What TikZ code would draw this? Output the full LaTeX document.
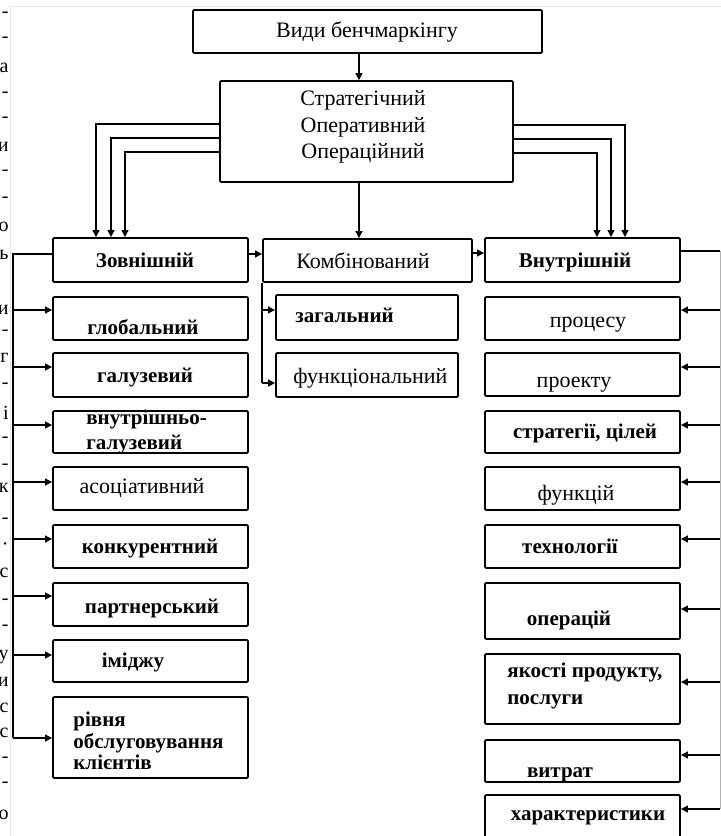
\documentclass[tikz,border=0pt]{standalone}
\usepackage{fontspec}
\setmainfont{Liberation Serif}
\usetikzlibrary{arrows.meta,fit}

\begin{document}
\begin{tikzpicture}[x=0.5pt, y=-0.5pt,
  cell/.style={draw, line width=0.9pt, rounded corners=0.6pt, inner sep=0pt},
  txt/.style={inner sep=0pt, font=\fontsize{11}{12}\selectfont, text height=1.5ex, text depth=0.3ex},
  btxt/.style={txt, font=\fontsize{10.5}{12}\selectfont\bfseries},
  frag/.style={inner sep=0pt, anchor=east, font=\fontsize{10}{11}\selectfont},
  wire/.style={line width=0.8pt},
  arr/.style={-{Triangle[length=3.5pt,width=3.4pt]}, line width=0.8pt}]
\path[use as bounding box] (0,0) rectangle (721,836);
\clip (0,0) rectangle (721,836);
% faint frame and cut text of the page
\draw[gray!20, line width=0.5pt] (10,836) -- (10,6) -- (721,6);
\foreach \y/\c in {15/-, 40/-, 68/а, 95/-, 120/-, 147/и, 173/-, 200/-, 227/о, 255/ь,
  310/и, 333/-, 358/г, 386/-, 413/і, 440/-, 467/-, 488/к, 521/-, 547/·, 573/с,
  602/-, 628/-, 657/у, 682/и, 708/с, 733/с, 760/-, 785/-, 815/о}
  \node[frag] (frag\y) at (9,\y) {\c};

% top
\node[cell, fit={(193,10) (542,53)}] (vydy) {};
\node[txt] (vydy-t) at (367,32) {Види бенчмаркінгу};
\node[cell, fit={(220,81) (513,182)}] (rivni) {};
\node[inner sep=0pt, align=center, font=\fontsize{11}{13.25}\selectfont] (rivni-t) at (363,127)
  {Стратегічний\\Оперативний\\Операційний};
\coordinate (axis) at (359,0);
\draw[arr] (vydy.south -| axis) -- (rivni.north -| axis);

% second level
\node[cell, fit={(53,238) (248,282)}] (zovn) {};
\node[cell, fit={(263,239) (472,282)}] (komb) {};
\node[cell, fit={(485,238) (680,282)}] (vnut) {};
\node[btxt] (zovn-t) at (145,262) {Зовнішній};
\node[txt] (komb-t) at (363,263) {Комбінований};
\node[btxt] (vnut-t) at (575,262) {Внутрішній};
\draw[arr] (rivni.south -| axis) -- (komb.north -| axis);
\foreach \y/\x in {124/96, 138/111, 152/125}
  \draw[arr] (rivni.west |- 0,\y) -| (zovn.north -| \x,0);
\foreach \y/\x in {125/625, 139/611, 153/597}
  \draw[arr] (rivni.east |- 0,\y) -| (vnut.north -| \x,0);
\draw[arr] (zovn.east |- 0,254) -- (komb.west |- 0,254);
\draw[arr] (komb.east |- 0,253) -- (vnut.west |- 0,253);

% external
\foreach \n/\t/\b in {glob/297/340, haluz/353/397, vnhal/411/453, asoc/467/510,
  konk/525/568, partn/583/626, imidzh/640/682, rivnia/697/778}
  \node[cell, fit={(53,\t) (248,\b)}] (\n) {};
\node[btxt] (glob-t) at (143,329) {глобальний};
\node[btxt] (haluz-t) at (145,377) {галузевий};
\node[inner sep=0pt, align=left, anchor=west, font=\fontsize{10.5}{12.5}\selectfont\bfseries] (vnhal-t)
  at (86,432) {внутрішньо-\\галузевий};
\node[txt] (asoc-t) at (142,488) {асоціативний};
\node[btxt] (konk-t) at (150,548) {конкурентний};
\node[btxt] (partn-t) at (152,608) {партнерський};
\node[btxt] (imidzh-t) at (133,662) {іміджу};
\node[inner sep=0pt, align=left, anchor=west, font=\fontsize{10.5}{10.75}\selectfont\bfseries] (rivnia-t)
  at (73,741) {рівня\\обслуговування\\клієнтів};
\coordinate (lt) at (13,254);
\draw[wire] (zovn.west |- lt) -- (lt) -- (lt |- 0,738);
\foreach \n/\y in {glob/310, haluz/367, vnhal/425, asoc/482, konk/539, partn/596,
  imidzh/655, rivnia/738}
  \draw[arr] (lt |- 0,\y) -- (\n.west |- 0,\y);

% combined
\foreach \n/\t/\b in {zahal/295/340, funk/353/397}
  \node[cell, fit={(276,\t) (458,\b)}] (\n) {};
\node[btxt, anchor=west] (zahal-t) at (295,317) {загальний};
\node[txt, anchor=west] (funk-t) at (293,378) {функціональний};
\draw[wire] (komb.south west) -- (komb.south west |- 0,383);
\foreach \n/\y in {zahal/310, funk/383}
  \draw[arr] (komb.south west |- 0,\y) -- (\n.west |- 0,\y);

% internal
\foreach \n/\t/\b in {proc/297/340, proekt/353/396, strat/411/453, funkts/467/510,
  tekhn/525/568, oper/583/639, yakist/654/724, vytr/740/782, kharakt/795/845}
  \node[cell, fit={(485,\t) (680,\b)}] (\n) {};
\node[txt] (proc-t) at (588,322) {процесу};
\node[txt] (proekt-t) at (574,382) {проекту};
\node[btxt] (strat-t) at (585,433) {стратегії, цілей};
\node[txt] (funkts-t) at (576,495) {функцій};
\node[btxt] (tekhn-t) at (570,548) {технології};
\node[btxt] (oper-t) at (569,620) {операцій};
\node[inner sep=0pt, align=left, anchor=west, font=\fontsize{10.5}{13.5}\selectfont\bfseries] (yakist-t)
  at (507,686) {якості продукту,\\послуги};
\node[btxt] (vytr-t) at (560,772) {витрат};
\node[btxt] (kharakt-t) at (588,815) {характеристики};
\coordinate (rt) at (720,251);
\draw[wire] (vnut.east |- rt) -- (rt);
\draw[gray!60, line width=0.5pt] (rt) -- (rt |- 0,809);
\foreach \n/\y in {proc/310, proekt/367, strat/425, funkts/482, tekhn/539, oper/609,
  yakist/682, vytr/755, kharakt/809}
  \draw[arr] (rt |- 0,\y) -- (\n.east |- 0,\y);
\end{tikzpicture}
\end{document}
